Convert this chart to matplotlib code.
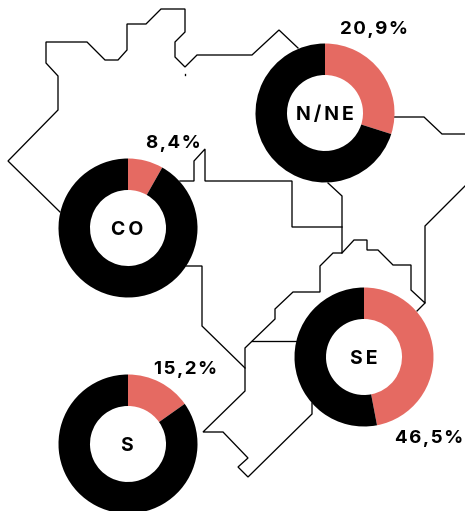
import matplotlib
matplotlib.use("Agg")
import matplotlib.pyplot as plt

plt.rcParams['font.family'] = ['Inter', 'DejaVu Sans']

W, H = 465, 511

regions = ["N/NE", "CO", "SE", "S"]
# the N/NE ring is drawn larger than its label says, the same as in the source picture
drawn_shares = [29.9, 8.2, 47.0, 15.2]
share_labels = ["20,9%", "8,4%", "46,5%", "15,2%"]

# map outline pieces in pixels (x, y down)
outline_nw = [(60, 212), (8, 161), (58, 110), (58, 76), (46, 63), (46, 42), (87, 42), (105, 60), (118, 60),
              (127, 50), (127, 24), (146, 24), (161, 9), (185, 9), (185, 32), (175, 42), (175, 57), (185, 67),
              (197, 55), (252, 55), (279, 30), (298, 48)]
outline_ne = [(394, 117), (424, 117), (442, 134), (465, 134)]
border_co_n = [(180, 181), (194, 181), (194, 161), (205, 149), (205, 181), (292, 181), (292, 227), (342, 227)]
border_n_se = [(328, 183), (342, 196), (342, 253), (333, 253), (320, 266), (320, 292), (293, 292), (275, 309),
               (275, 319), (245, 348), (245, 391), (203, 432), (223, 432), (248, 458), (238, 467), (248, 477),
               (312, 414), (312, 403)]
border_ne_coast = [(342, 253), (354, 240), (367, 240), (367, 250), (378, 250), (393, 265), (411, 265), (411, 290),
                   (425, 303), (425, 226), (465, 186)]
border_ne_tail = [(425, 303), (417, 311)]
border_co_se = [(186, 266), (202, 266), (202, 326), (245, 368)]
border_se_w = [(252, 341), (297, 341)]
speck = [(185, 74), (185, 75)]
outlines = [outline_nw, outline_ne, border_co_n, border_n_se, border_ne_coast, border_ne_tail, border_co_se,
            border_se_w, speck]


def spaced(s, gap="\u200a"):
    return gap.join(s)


fig = plt.figure(figsize=(W / 100, H / 100), dpi=100)
ax = fig.add_axes([0, 0, 1, 1])

for line in outlines:
    ax.plot([p[0] for p in line], [H - p[1] for p in line], color='black', lw=0.95, solid_joinstyle='miter', zorder=1)

centers = [(325, 113), (128, 228), (364, 357), (128, 444)]
label_pos = [(374, 27), (173, 141), (429, 436), (186, 367)]
name_shift = [0, -1, 0, -2]

for region, share, text, c, pos, dx in zip(regions, drawn_shares, share_labels, centers, label_pos, name_shift):
    ax.pie([share, 100 - share], colors=['#e56a62', 'black'], startangle=90, counterclock=False,
           center=(c[0], H - c[1]), radius=69.5, wedgeprops=dict(width=31.5, linewidth=0))
    ax.text(c[0] + dx, H - c[1], spaced(region, "\u200a\u200a"), ha='center', va='center_baseline', fontsize=14,
            fontweight='bold', color='black', zorder=5)
    ax.text(pos[0], H - pos[1], spaced(text), ha='center', va='center_baseline', fontsize=13.5, fontweight='bold',
            color='black', zorder=5)

ax.set_aspect('auto')
ax.set_xlim(0, W)
ax.set_ylim(0, H)
ax.axis('off')

fig.savefig('out.png', dpi=100, facecolor='white')
